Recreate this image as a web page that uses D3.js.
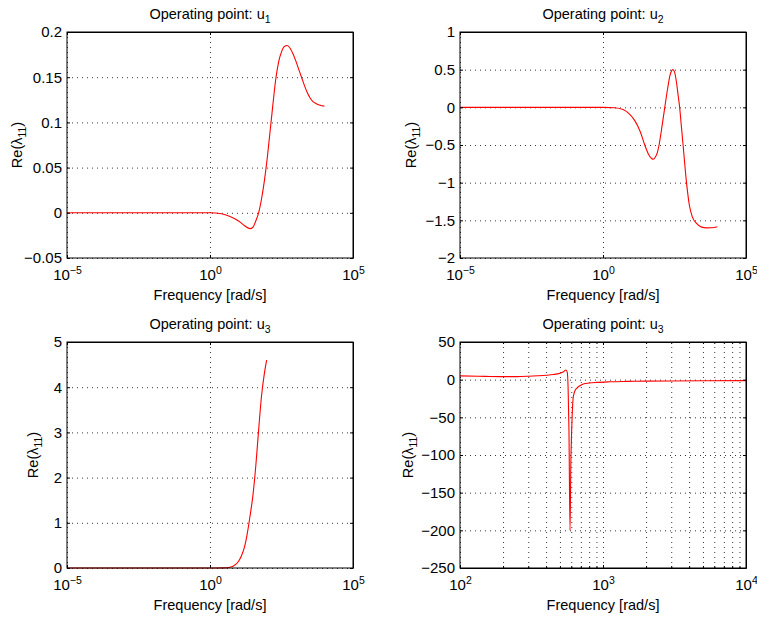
<!DOCTYPE html>
<html>
<head>
<meta charset="utf-8">
<script src="https://cdn.jsdelivr.net/npm/d3@7"></script>
<style>
  html, body { margin: 0; padding: 0; background: #fff; }
  svg { display: block; font-family: "Liberation Sans", Arial, Helvetica, sans-serif; }
  .grid line { stroke: #222; stroke-dasharray: 1 4; stroke-width: 0.9; }
  .grid path { display: none; }
</style>
</head>
<body>
<svg id="chart" width="757" height="617"></svg>
<script>
// ---------------- data (x given as log10 of frequency) ----------------
const titlesSub = ["1", "2", "3", "3"];

const logFreqU1 = [-5, 0, 0.4, 0.7, 1.0, 1.2, 1.4, 1.5, 1.6, 1.7, 1.8, 1.9, 2.0, 2.1, 2.2, 2.3, 2.4, 2.5, 2.6, 2.7, 2.8, 2.9, 3.0, 3.1, 3.2, 3.3, 3.4, 3.5, 3.6, 3.7, 3.85, 4.0];
const valsU1    = [0, 0, -0.001, -0.004, -0.009, -0.014, -0.0175, -0.016, -0.009, 0.0, 0.015, 0.035, 0.06, 0.09, 0.12, 0.148, 0.167, 0.178, 0.184, 0.185, 0.182, 0.176, 0.168, 0.159, 0.15, 0.141, 0.133, 0.127, 0.123, 0.121, 0.119, 0.118];

const logFreqU2 = [-5, 0, 0.4, 0.7, 0.9, 1.1, 1.3, 1.46, 1.6, 1.7, 1.76, 1.83, 1.9, 1.96, 2.06, 2.16, 2.26, 2.34, 2.44, 2.5, 2.57, 2.63, 2.68, 2.74, 2.8, 2.92, 3.02, 3.12, 3.27, 3.45, 3.62, 3.8, 4.0];
const valsU2    = [0, 0, -0.005, -0.03, -0.08, -0.17, -0.32, -0.5, -0.63, -0.68, -0.69, -0.66, -0.6, -0.5, -0.26, 0.0, 0.25, 0.42, 0.5, 0.47, 0.33, 0.15, 0.0, -0.25, -0.5, -1.0, -1.3, -1.45, -1.54, -1.59, -1.6, -1.598, -1.585];

const logFreqU3 = [-5, 0, 0.5, 0.7, 0.9, 1.0, 1.1, 1.2, 1.3, 1.4, 1.5, 1.6, 1.7, 1.8, 1.9, 1.98];
const valsU3    = [0, 0, 0.002, 0.015, 0.08, 0.15, 0.27, 0.45, 0.75, 1.15, 1.6, 2.25, 3.05, 3.8, 4.3, 4.6];

const freqU3zoom = [100, 150, 200, 250, 300, 350, 400, 450, 500, 530, 551, 562, 570, 578, 588, 596, 604, 620, 640, 655, 690, 728, 800, 903, 1119, 1500, 2000, 3000, 5000, 10000];
const valsU3zoom = [5, 4.4, 4.1, 4.1, 4.5, 5.1, 5.8, 6.8, 8.6, 10.6, 12.8, 10, -10, -67, -200, -110, -67, -22.6, -14, -11.5, -8, -5.8, -4.5, -3.6, -2.8, -2.3, -1.9, -1.7, -1.5, -1.3];

// tick values
const yTicksU1 = [-0.05, 0, 0.05, 0.1, 0.15, 0.2];
const yTicksU2 = [-2, -1.5, -1, -0.5, 0, 0.5, 1];
const yTicksU3 = [0, 1, 2, 3, 4, 5];
const yTicksU3zoom = [-250, -200, -150, -100, -50, 0, 50];
const xTicksWide = [1e-5, 1, 1e5];
const xTicksZoom = [1e2, 1e3, 1e4];
const xMinorZoom = [200, 300, 400, 500, 600, 700, 800, 900, 2000, 3000, 4000, 5000, 6000, 7000, 8000, 9000];

// ---------------- layout ----------------
const panels = [
  { left: 67,  top: 32,  sub: titlesSub[0], xs: logFreqU1.map(e => Math.pow(10, e)), ys: valsU1, xDom: [1e-5, 1e5], yDom: [-0.05, 0.2], yTicks: yTicksU1, xTicks: xTicksWide, minor: [], ylabX: 22 },
  { left: 460, top: 32,  sub: titlesSub[1], xs: logFreqU2.map(e => Math.pow(10, e)), ys: valsU2, xDom: [1e-5, 1e5], yDom: [-2, 1], yTicks: yTicksU2, xTicks: xTicksWide, minor: [], ylabX: 416 },
  { left: 67,  top: 342, sub: titlesSub[2], xs: logFreqU3.map(e => Math.pow(10, e)), ys: valsU3, xDom: [1e-5, 1e5], yDom: [0, 5], yTicks: yTicksU3, xTicks: xTicksWide, minor: [], ylabX: 38 },
  { left: 460, top: 342, sub: titlesSub[3], xs: freqU3zoom, ys: valsU3zoom, xDom: [1e2, 1e4], yDom: [-250, 50], yTicks: yTicksU3zoom, xTicks: xTicksZoom, minor: xMinorZoom, ylabX: 413 }
];
const W = 286, H = 226;
const FS = 15;   // tick labels
const LS = 14.5; // titles and axis labels

const svg = d3.select("#chart");
const fmtY = d => d === 0 ? "0" : String(d).replace("-", "\u2212");

panels.forEach(p => {
  const g = svg.append("g").attr("transform", `translate(${p.left},${p.top})`);
  const x = d3.scaleLog().domain(p.xDom).range([0, W]);
  const y = d3.scaleLinear().domain(p.yDom).range([H, 0]);

  // grid
  g.append("g").attr("class", "grid")
    .call(d3.axisLeft(y).tickValues(p.yTicks).tickSize(-W).tickFormat(""));
  g.append("g").attr("class", "grid")
    .call(d3.axisBottom(x).tickValues(p.xTicks.concat(p.minor)).tickSize(H).tickFormat(""));

  // data line
  const pts = p.xs.map((xv, i) => [xv, p.ys[i]]);
  g.append("path")
    .datum(pts)
    .attr("fill", "none")
    .attr("stroke", "#ff0000")
    .attr("stroke-width", 1.1)
    .attr("d", d3.line().x(d => x(d[0])).y(d => y(d[1])).curve(d3.curveMonotoneX));

  // axes (ticks inside, both sides)
  const tl = 3;
  const yl = g.append("g").call(d3.axisLeft(y).tickValues(p.yTicks).tickSizeInner(-tl).tickSizeOuter(0).tickPadding(5).tickFormat(fmtY));
  g.append("g").attr("transform", `translate(${W},0)`).call(d3.axisRight(y).tickValues(p.yTicks).tickSizeInner(-tl).tickSizeOuter(0).tickFormat(""));
  const xl = g.append("g").attr("transform", `translate(0,${H})`).call(d3.axisBottom(x).tickValues(p.xTicks).tickSizeInner(-tl).tickSizeOuter(0).tickPadding(8).tickFormat(""));
  g.append("g").call(d3.axisTop(x).tickValues(p.xTicks).tickSizeInner(-tl).tickSizeOuter(0).tickFormat(""));
  if (p.minor.length) {
    g.append("g").attr("transform", `translate(0,${H})`).call(d3.axisBottom(x).tickValues(p.minor).tickSizeInner(-2).tickSizeOuter(0).tickFormat(""));
    g.append("g").call(d3.axisTop(x).tickValues(p.minor).tickSizeInner(-2).tickSizeOuter(0).tickFormat(""));
  }
  [yl, xl].forEach(a => {
    a.select(".domain").remove();
    a.selectAll("text").attr("font-size", FS).attr("fill", "#000").attr("font-family", "Liberation Sans, Arial, sans-serif");
  });
  g.selectAll(".tick line").attr("stroke", "#000");
  xl.selectAll(".tick text").each(function(d) {
    const t = d3.select(this);
    t.text(null).attr("dy", "0.95em");
    t.append("tspan").text("10");
    t.append("tspan").attr("dy", "-0.55em").attr("font-size", FS * 0.7).text(String(Math.round(Math.log10(d))).replace("-", "\u2212"));
  });

  // box
  g.append("rect").attr("width", W).attr("height", H).attr("fill", "none").attr("stroke", "#000").attr("stroke-width", 1);

  // title
  const tt = g.append("text").attr("x", W / 2).attr("y", -13).attr("text-anchor", "middle").attr("font-size", LS);
  tt.append("tspan").text("Operating point: u");
  tt.append("tspan").attr("dy", 4).attr("font-size", LS * 0.72).text(p.sub);

  // x label
  g.append("text").attr("x", W / 2).attr("y", H + 42).attr("text-anchor", "middle").attr("font-size", LS).text("Frequency [rad/s]");

  // y label
  const yt = svg.append("text").attr("transform", `translate(${p.ylabX},${p.top + H / 2}) rotate(-90)`).attr("text-anchor", "middle").attr("font-size", LS);
  yt.append("tspan").text("Re(\u03bb");
  yt.append("tspan").attr("dy", 4).attr("font-size", LS * 0.72).text("11");
  yt.append("tspan").attr("dy", -4).text(")");
});
</script>
</body>
</html>
